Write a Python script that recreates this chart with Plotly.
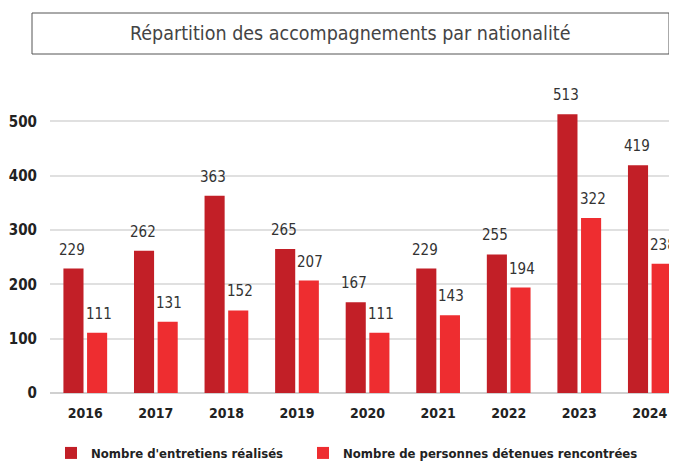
import plotly.graph_objects as go

years = ["2016", "2017", "2018", "2019", "2020", "2021", "2022", "2023", "2024"]
entretiens = [229, 262, 363, 265, 167, 229, 255, 513, 419]
personnes = [111, 131, 152, 207, 111, 143, 194, 322, 238]
series_names = ["Nombre d'entretiens réalisés", "Nombre de personnes détenues rencontrées"]
title_text = "Répartition des accompagnements par nationalité"

DARK = "#C21F27"
LIGHT = "#EE2D30"
FONT = "DejaVu Sans Condensed"

fig = go.Figure()
fig.add_trace(go.Bar(x=years, y=entretiens, name=series_names[0], marker_color=DARK,
                     marker_line_width=0, legend="legend"))
fig.add_trace(go.Bar(x=years, y=personnes, name=series_names[1], marker_color=LIGHT,
                     marker_line_width=0, legend="legend2"))

annotations = []
for i, v in enumerate(entretiens):
    annotations.append(dict(x=i, y=v, xref="x", yref="y", text=str(v), showarrow=False,
                            xshift=-13.3, yshift=8, yanchor="bottom",
                            font=dict(family=FONT, size=15, color="#333")))
for i, v in enumerate(personnes):
    annotations.append(dict(x=i, y=v, xref="x", yref="y", text=str(v), showarrow=False,
                            xshift=13.3, yshift=8, yanchor="bottom",
                            font=dict(family=FONT, size=15, color="#333")))
annotations.append(dict(x=(350 - 50) / 627, y=(393 - 33.5) / 326, xref="paper", yref="paper",
                        text=title_text, showarrow=False, yanchor="middle",
                        font=dict(family=FONT, size=19.5, color="#444")))

legend_font = dict(family=FONT, size=13, color="#222", weight="bold")
fig.update_layout(
    width=669, height=453,
    margin=dict(l=42, r=0, t=59, b=68),
    paper_bgcolor="white", plot_bgcolor="white",
    barmode="group", bargap=0.33, bargroupgap=0.15,
    showlegend=True,
    legend=dict(orientation="h", x=0.0016, y=0.0177, yref="container", xanchor="left",
                yanchor="middle", font=legend_font, bgcolor="rgba(0,0,0,0)"),
    legend2=dict(orientation="h", x=0.4035, y=0.0177, yref="container", xanchor="left",
                 yanchor="middle", font=legend_font, bgcolor="rgba(0,0,0,0)"),
    annotations=annotations,
    xaxis=dict(type="category", range=[-0.5, 8.385], showgrid=False, showline=False, ticks="",
               ticklabelstandoff=10,
               tickfont=dict(family=FONT, size=14, color="#222", weight="bold")),
    yaxis=dict(range=[0, 600], tickvals=[0, 100, 200, 300, 400, 500], showgrid=True,
               gridcolor="#e0e0e0", gridwidth=1.5, zeroline=True, zerolinecolor="#d0d0d0",
               zerolinewidth=1.5, ticks="", ticklabelstandoff=12,
               tickfont=dict(family=FONT, size=15, color="#222", weight="bold")),
)
fig.add_shape(type="rect", xref="paper", yref="paper",
              x0=(32 - 50) / 627, x1=(669 - 50) / 627,
              y0=(393 - 54) / 326, y1=(393 - 13) / 326,
              line=dict(color="#555", width=1), fillcolor="rgba(0,0,0,0)")

fig.write_html("out.html")
